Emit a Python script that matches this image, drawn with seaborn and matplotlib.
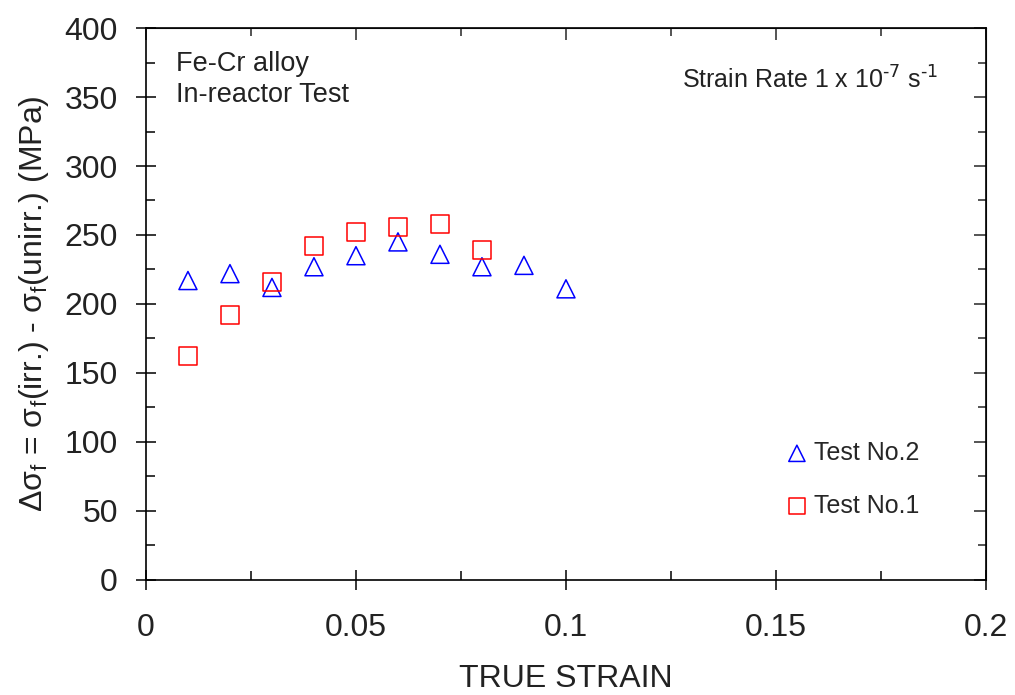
import matplotlib
matplotlib.use('Agg')
import matplotlib.pyplot as plt
import seaborn as sns
from matplotlib.ticker import MultipleLocator

# data
strain_test2 = [0.01, 0.02, 0.03, 0.04, 0.05, 0.06, 0.07, 0.08, 0.09, 0.10]
stress_test2 = [217, 222, 212, 227, 235, 245, 236, 227, 228, 211]
strain_test1 = [0.01, 0.02, 0.03, 0.04, 0.05, 0.06, 0.07, 0.08]
stress_test1 = [162, 192, 216, 242, 252, 256, 258, 239]
x_ticks = [0, 0.05, 0.1, 0.15, 0.2]
x_tick_labels = ['0', '0.05', '0.1', '0.15', '0.2']
y_ticks = [0, 50, 100, 150, 200, 250, 300, 350, 400]

sns.set_style('ticks')
plt.rcParams['font.family'] = ['Liberation Sans', 'DejaVu Sans']
plt.rcParams['mathtext.default'] = 'regular'

fig = plt.figure(figsize=(10.15, 6.95), dpi=100)
ax = fig.add_axes([0.1438, 0.1655, 0.8276, 0.7942])

sns.scatterplot(x=strain_test2, y=stress_test2, ax=ax, marker='^', s=169,
                facecolors='none', edgecolor='#0000ff', linewidth=1.1,
                label='Test No.2', zorder=3)
sns.scatterplot(x=strain_test1, y=stress_test1, ax=ax, marker='s', s=169,
                facecolors='none', edgecolor='#ff0000', linewidth=1.1,
                label='Test No.1', zorder=3)

ax.set_xlim(0, 0.2)
ax.set_ylim(0, 400)
ax.set_xticks(x_ticks)
ax.set_xticklabels(x_tick_labels)
ax.set_yticks(y_ticks)
ax.xaxis.set_minor_locator(MultipleLocator(0.025))
ax.yaxis.set_minor_locator(MultipleLocator(25))

for side in ['left', 'right', 'top', 'bottom']:
    ax.spines[side].set_visible(True)
    ax.spines[side].set_linewidth(1.2)
    ax.spines[side].set_color('black')

ax.tick_params(which='major', direction='inout', length=14.5, width=1.1,
               labelsize=23, color='black', labelcolor='#222222')
ax.tick_params(axis='x', which='major', pad=16.5)
ax.tick_params(axis='y', which='major', pad=13)
ax.tick_params(which='minor', direction='in', length=6.5, width=1.1, color='black')

# inward ticks on top and right edges
top = ax.secondary_xaxis('top')
top.set_xticks(x_ticks)
top.xaxis.set_minor_locator(MultipleLocator(0.025))
top.tick_params(which='major', direction='in', length=8.5, width=1.1, labeltop=False)
top.tick_params(which='minor', direction='in', length=6, width=1.1)
right = ax.secondary_yaxis('right')
right.set_yticks(y_ticks)
right.yaxis.set_minor_locator(MultipleLocator(25))
right.tick_params(which='major', direction='in', length=8.5, width=1.1, labelright=False)
right.tick_params(which='minor', direction='in', length=6, width=1.1)

ax.set_xlabel('TRUE STRAIN', fontsize=23, labelpad=15, color='#222222')
ax.set_ylabel(r'Δσ$_f$ = σ$_f$(irr.) - σ$_f$(unirr.) (MPa)', fontsize=23,
              labelpad=10, color='#222222')

ax.text(0.036, 0.958, 'Fe-Cr alloy\nIn-reactor Test', transform=ax.transAxes,
        fontsize=19.5, va='top', ha='left', linespacing=1.25, color='#222222')
ax.text(0.943, 0.906, r'Strain Rate 1 x 10$^{\text{-7}}$ s$^{\text{-1}}$', transform=ax.transAxes,
        fontsize=18, va='center', ha='right', color='#222222')

ax.legend(loc='upper left', bbox_to_anchor=(0.763, 0.252), frameon=False,
          fontsize=18, handlelength=0.8, handletextpad=0.3, labelspacing=1.15,
          borderpad=0, borderaxespad=0, scatterpoints=1, markerscale=0.9)

fig.savefig('out.png', dpi=100)
